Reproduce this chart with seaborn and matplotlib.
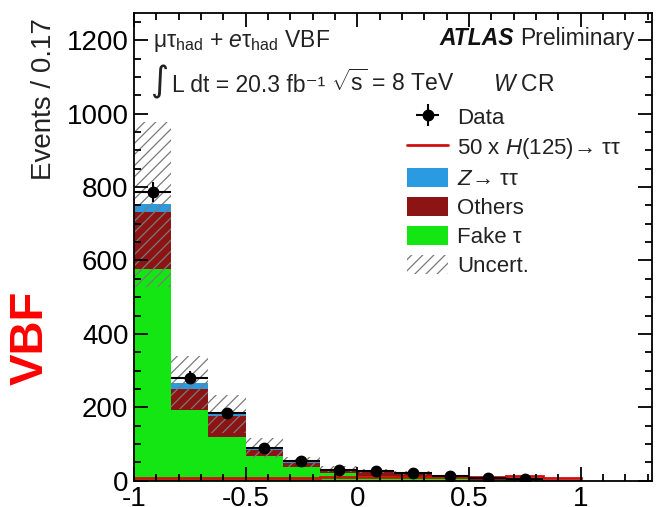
import numpy as np
import pandas as pd
import matplotlib
matplotlib.use("Agg")
import matplotlib.pyplot as plt
import seaborn as sns
from matplotlib.patches import Patch
from matplotlib.lines import Line2D
from matplotlib.ticker import MultipleLocator, FuncFormatter

# ---------------- data ----------------
bin_edges = [-1.0, -5/6, -4/6, -3/6, -2/6, -1/6, 0.0, 1/6, 2/6, 3/6, 4/6, 5/6, 1.0]
fake_tau = [576, 193, 120, 67, 36, 20, 14, 10, 6, 2, 1, 0.5]
others = [157, 56, 57, 17, 13, 9, 10, 10, 6, 4, 2.5, 1.2]
ztautau = [20, 18, 4, 5, 2, 2, 2, 1.5, 1, 0.7, 0.5, 0.3]
signal_50x = [7, 7, 7, 7, 8, 9, 10, 11, 11, 11, 14, 7]
data_obs = [786, 281, 184, 88, 54, 29, 26, 22, 13, 6, 4, 0]
bkg_unc = [225, 73, 52, 27, 13, 8, 6, 5, 3, 2, 1.5, 1]

process_names = ["Z", "Others", "Fake"]
colors = {"Z": "#2a9be0", "Others": "#8c1414", "Fake": "#14e614"}
hatch_col = "#7a7a7a"
sig_col = "#d01010"

# ---------------- style ----------------
sns.set_theme(style="ticks")
plt.rcParams["font.family"] = ["Liberation Sans", "DejaVu Sans"]
plt.rcParams["mathtext.fontset"] = "custom"
plt.rcParams["mathtext.rm"] = "Liberation Sans"
plt.rcParams["mathtext.it"] = "Liberation Sans:italic"
plt.rcParams["mathtext.bf"] = "Liberation Sans:bold"
plt.rcParams["axes.unicode_minus"] = False
plt.rcParams["hatch.linewidth"] = 0.9
plt.rcParams["hatch.color"] = hatch_col

edges = np.array(bin_edges)
centers = 0.5 * (edges[:-1] + edges[1:])
widths = np.diff(edges)
nb = len(centers)

df = pd.DataFrame({
    "x": np.tile(centers, 3),
    "w": np.concatenate([ztautau, others, fake_tau]),
    "proc": ["Z"] * nb + ["Others"] * nb + ["Fake"] * nb,
})

fig = plt.figure(figsize=(6.56, 5.07), dpi=100)
ax = fig.add_axes([134 / 656, 1 - 480.7 / 507, (652 - 134) / 656, (480.7 - 12.7) / 507])

sns.histplot(data=df, x="x", weights="w", hue="proc", hue_order=process_names,
             multiple="stack", bins=list(bin_edges), element="bars", palette=colors,
             alpha=1, linewidth=0, edgecolor="none", legend=False, ax=ax)

total = np.array(fake_tau) + np.array(others) + np.array(ztautau)
unc = np.array(bkg_unc)
ax.bar(edges[:-1], 2 * unc, width=widths, bottom=total - unc, align="edge",
       facecolor="none", edgecolor=hatch_col, hatch="///", linewidth=0, zorder=1.2)

ax.stairs(signal_50x, edges, color=sig_col, linewidth=2, zorder=2)

d = np.array(data_obs, dtype=float)
m = d > 0
eb = ax.errorbar(centers[m], d[m], yerr=np.sqrt(d[m]), xerr=widths[m] / 2,
                 fmt="o", color="black", ms=7.5, elinewidth=1.5, capsize=0,
                 zorder=3, label="Data")

# ---------------- axes ----------------
ax.set_xlim(-1, 1.32)
ax.set_ylim(0, 1275)
ax.set_xlabel("")
ax.xaxis.set_major_locator(MultipleLocator(0.5))
ax.xaxis.set_minor_locator(MultipleLocator(0.1))
ax.yaxis.set_major_locator(MultipleLocator(200))
ax.yaxis.set_minor_locator(MultipleLocator(50))
ax.xaxis.set_major_formatter(FuncFormatter(lambda v, p: f"{round(v, 3) + 0:g}"))
ax.tick_params(which="both", direction="in", top=True, right=True, width=1.3,
               colors="black", labelsize=20)
ax.tick_params(which="major", length=10, pad=4)
ax.tick_params(which="minor", length=5)
ax.set_axisbelow(False)
for s in ax.spines.values():
    s.set_linewidth(1.3)
    s.set_color("black")

ax.set_ylabel("Events / 0.17", fontsize=20, loc="top", color="#222222")
ax.yaxis.set_label_coords(-0.149, 0.989)

# ---------------- texts ----------------
tfs = 16.5
tc = "#222222"
ax.text(0.0367, 0.927, r"μτ$_{\rm had}$ + $e$τ$_{\rm had}$ VBF", transform=ax.transAxes,
        fontsize=tfs, va="baseline", ha="left", color=tc)
ax.text(0.048, 0.851, "∫", transform=ax.transAxes, fontsize=25, family="DejaVu Sans",
        va="center", ha="center", color=tc)
ax.text(0.0734, 0.831, "L dt = 20.3 fb⁻¹", transform=ax.transAxes,
        fontsize=tfs, va="baseline", ha="left", color=tc)
ax.text(0.381, 0.833, r"$\sqrt{\rm s}$ = 8 TeV", transform=ax.transAxes,
        fontsize=tfs, va="baseline", ha="left", color=tc)
ax.text(0.693, 0.833, r"$W$ CR", transform=ax.transAxes,
        fontsize=tfs, va="baseline", ha="left", color=tc)
tp = ax.text(0.967, 0.931, "Preliminary", transform=ax.transAxes,
             fontsize=tfs, va="baseline", ha="right", color=tc)
ax.annotate("ATLAS ", xy=(0, 0), xycoords=tp, fontsize=tfs, ha="right", va="bottom",
            fontweight="bold", fontstyle="italic", color="#111111")

fig.text(30.5 / 656, 1 - 337.5 / 507, "VBF", rotation=90, color="#ff0000",
         fontsize=34, fontweight="bold", ha="center", va="center")

# ---------------- legend ----------------
handles = [
    eb,
    Line2D([], [], color=sig_col, lw=2),
    Patch(facecolor=colors["Z"], edgecolor="none"),
    Patch(facecolor=colors["Others"], edgecolor="none"),
    Patch(facecolor=colors["Fake"], edgecolor="none"),
    Patch(facecolor="white", edgecolor=hatch_col, hatch="///", linewidth=0),
]
labels = ["Data", "50 x $H$(125)→ ττ", "$Z$→ ττ",
          "Others", "Fake τ", "Uncert."]
leg = ax.legend(handles, labels, loc="upper left", bbox_to_anchor=(0.527, 0.799),
                frameon=False, fontsize=16, handlelength=1.85, handleheight=0.95,
                handletextpad=0.4, labelspacing=0.31, borderpad=0, borderaxespad=0)
for t in leg.get_texts():
    t.set_color(tc)

fig.savefig("out.png", dpi=100)
